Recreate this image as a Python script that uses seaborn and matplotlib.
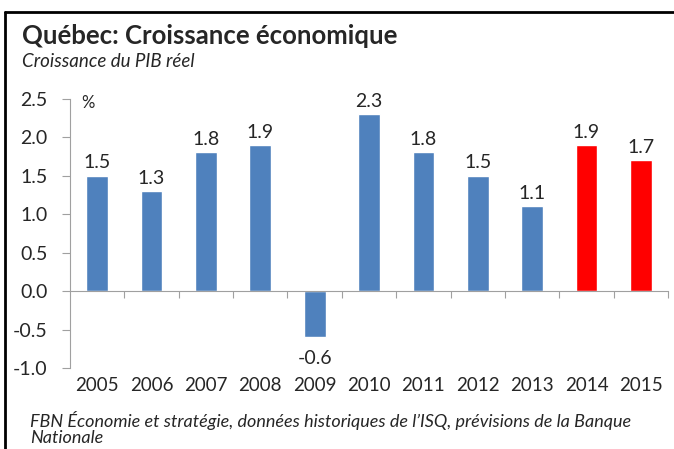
import matplotlib
matplotlib.use("Agg")
import matplotlib.pyplot as plt
import seaborn as sns
import pandas as pd
from matplotlib.lines import Line2D
from matplotlib.ticker import FixedLocator

# data
years = ["2005", "2006", "2007", "2008", "2009", "2010",
         "2011", "2012", "2013", "2014", "2015"]
growth = [1.5, 1.3, 1.8, 1.9, -0.6, 2.3, 1.8, 1.5, 1.1, 1.9, 1.7]
kind = ["Historique"] * 9 + ["Prévision"] * 2

df = pd.DataFrame({"year": years, "growth": growth, "kind": kind})
colors = {"Historique": "#4F81BD", "Prévision": "#FF0000"}

sns.set_style("white")
plt.rcParams["font.family"] = ["Lato", "DejaVu Sans"]

fig = plt.figure(figsize=(6.74, 4.49), dpi=100)
ax = fig.add_axes([0.1039, 0.1804, 0.8872, 0.6002])

sns.barplot(data=df, x="year", y="growth", hue="kind", palette=colors,
            dodge=False, width=0.4, legend=False, ax=ax, saturation=1)

ax.set_ylim(-1.0, 2.5)
ax.set_xlim(-0.5, len(years) - 0.5)
ax.set_yticks([-1.0, -0.5, 0.0, 0.5, 1.0, 1.5, 2.0, 2.5])
ax.set_yticklabels([f"{v:.1f}" for v in ax.get_yticks()], fontsize=14)
ax.tick_params(axis="y", length=6, width=0.8, color="#A0A0A0", pad=10,
               left=True, direction="out")
ax.set_xlabel("")
ax.set_ylabel("")

# zero line as the bottom spine, with ticks between categories
for s in ["top", "right"]:
    ax.spines[s].set_visible(False)
ax.spines["left"].set_color("#A0A0A0")
ax.spines["bottom"].set_color("#A0A0A0")
ax.spines["bottom"].set_position(("data", 0))
ax.xaxis.set_minor_locator(FixedLocator([i + 0.5 for i in range(len(years))]))
ax.tick_params(axis="x", which="minor", length=5, width=0.8, color="#A0A0A0",
               bottom=True, direction="out")
ax.tick_params(axis="x", which="major", length=0, labelsize=13.5, pad=62)

# value labels
for i, v in enumerate(growth):
    if v >= 0:
        ax.annotate(f"{v:.1f}", (i, v), xytext=(0, 3), textcoords="offset points",
                    ha="center", va="bottom", fontsize=14)
    else:
        ax.annotate(f"{v:.1f}", (i, v), xytext=(0, -9), textcoords="offset points",
                    ha="center", va="top", fontsize=14)

ax.text(0.018, 0.985, "%", transform=ax.transAxes, fontsize=12, va="center")

fig.text(0.033, 0.92, "Québec: Croissance économique", fontsize=18.5,
         fontweight="bold", va="center")
fig.text(0.033, 0.864, "Croissance du PIB réel", fontsize=13.5,
         style="italic", va="center")
fig.text(0.044, 0.045, "FBN Économie et stratégie, données historiques de l’ISQ, "
         "prévisions de la Banque\nNationale", fontsize=13, style="italic",
         va="center", linespacing=1.0)

# frame lines at the top and left
fig.add_artist(Line2D([0.008, 1.0], [0.973, 0.973], transform=fig.transFigure,
                      color="black", lw=2))
fig.add_artist(Line2D([0.008, 0.008], [0.0, 0.973], transform=fig.transFigure,
                      color="black", lw=2))

fig.savefig("out.png", dpi=100)
